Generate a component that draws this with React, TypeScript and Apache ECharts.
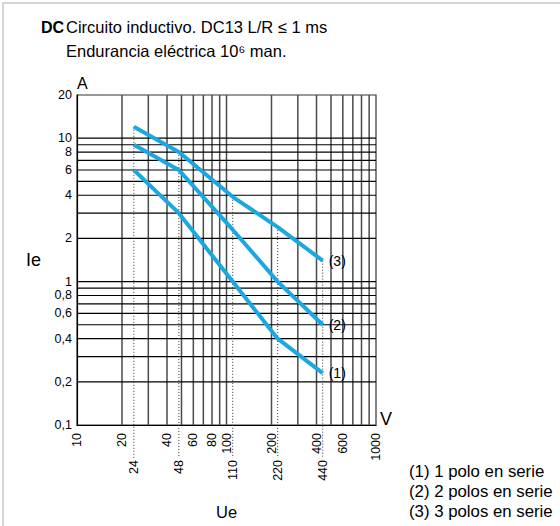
import React, { useEffect, useRef } from "react";
import * as echarts from "echarts";

// vertical grid lines (V) and horizontal grid lines (A)
const xGridValues = [20, 30, 40, 50, 60, 70, 80, 90, 100, 200, 300, 400, 500, 600, 700, 800, 900];
const yGridValues = [0.2, 0.3, 0.4, 0.5, 0.6, 0.7, 0.8, 0.9, 1, 2, 3, 4, 5, 6, 7, 8, 9, 10];
// tick labels
const xTickLabels = [10, 20, 40, 60, 80, 100, 200, 400, 600, 1000];
const ratedVoltages = [24, 48, 110, 220, 440];
const yTickLabels = [0.1, 0.2, 0.4, 0.6, 0.8, 1, 2, 4, 6, 8, 10, 20];
// curves: Ue (V) -> Ie (A)
const curve1 = [[24, 6], [48, 3], [110, 1], [220, 0.4], [440, 0.23]];
const curve2 = [[24, 9], [48, 6], [110, 2.3], [220, 1], [440, 0.5]];
const curve3 = [[24, 12], [48, 8], [110, 3.9], [220, 2.4], [440, 1.4]];
const curveNames = ["(1)", "(2)", "(3)"];
const legendLines = ["(1) 1 polo en serie", "(2) 2 polos en serie", "(3) 3 polos en serie"];

const FONT = "Liberation Sans";
const BLUE = "#1ba7e0";

const txt = (x: number, y: number, text: string, size: number, weight: string = "normal") => ({
  type: "text",
  x,
  y,
  style: { text, fontSize: size, fontWeight: weight, fontFamily: FONT, fill: "#000", verticalAlign: "middle", align: "left" },
});

export default function App() {
  const ref = useRef<HTMLDivElement>(null);
  useEffect(() => {
    if (!ref.current) return;
    const chart = echarts.init(ref.current, null, { renderer: "svg" });

    const gridRender = (params: any, api: any) => {
      const children: any[] = [];
      const [x0, yBottom] = api.coord([10, 0.1]);
      const [x1, yTop] = api.coord([1000, 20]);
      xGridValues.forEach((v) => {
        const [x] = api.coord([v, 1]);
        children.push({
          type: "line",
          shape: { x1: x, y1: yTop, x2: x, y2: yBottom },
          style: { stroke: "#4a4a4a", lineWidth: 1.5 },
        });
      });
      yGridValues.forEach((v) => {
        const [, y] = api.coord([10, v]);
        children.push({
          type: "line",
          shape: { x1: x0, y1: y, x2: x1, y2: y },
          style: { stroke: "#000", lineWidth: 1.2 },
        });
      });
      ratedVoltages.forEach((v) => {
        const top = curve3.find((p) => p[0] === v);
        const [x, yt] = api.coord([v, top ? top[1] : 20]);
        children.push({
          type: "line",
          shape: { x1: x, y1: yt, x2: x, y2: yBottom + 33 },
          style: { stroke: "#333", lineWidth: 1, lineDash: [1, 2] },
        });
        children.push({
          type: "text",
          x: x,
          y: yBottom + 35,
          rotation: Math.PI / 2,
          style: { text: String(v), fontSize: 12.5, fontFamily: FONT, fill: "#000", align: "right", verticalAlign: "middle" },
        });
      });
      xTickLabels.forEach((v) => {
        const [x] = api.coord([v, 1]);
        children.push({
          type: "text",
          x: x,
          y: yBottom + 8,
          rotation: Math.PI / 2,
          style: { text: String(v), fontSize: 12.5, fontFamily: FONT, fill: "#000", align: "right", verticalAlign: "middle" },
        });
      });
      yTickLabels.forEach((v) => {
        const [, y] = api.coord([10, v]);
        children.push({
          type: "text",
          x: x0 - 5,
          y: y,
          style: { text: String(v).replace(".", ","), fontSize: 12.5, fontFamily: FONT, fill: "#000", align: "right", verticalAlign: "middle" },
        });
      });
      return { type: "group", children };
    };

    const curves = [curve1, curve2, curve3];
    const option: any = {
      animation: false,
      backgroundColor: "#fff",
      grid: { left: 77, top: 95, right: 184, bottom: 101, show: true, borderColor: "#333", borderWidth: 1.2 },
      xAxis: {
        type: "log",
        logBase: 10,
        min: 10,
        max: 1000,
        axisLine: { show: true, lineStyle: { color: "#000", width: 1.2 } },
        axisTick: { show: false },
        axisLabel: { show: false },
        splitLine: { show: false },
        minorSplitLine: { show: false },
      },
      yAxis: {
        type: "log",
        logBase: 10,
        min: 0.1,
        max: 20,
        axisLine: { show: true, lineStyle: { color: "#000", width: 1.2 } },
        axisTick: { show: false },
        axisLabel: { show: false },
        splitLine: { show: false },
        minorSplitLine: { show: false },
      },
      series: [
        {
          type: "custom",
          coordinateSystem: "cartesian2d",
          renderItem: gridRender,
          data: [[100, 1]],
          silent: true,
          z: 1,
        },
        ...curves.map((c, i) => ({
          type: "line",
          data: c,
          symbol: "none",
          z: 5,
          lineStyle: { color: BLUE, width: 4 },
          endLabel: {
            show: true,
            formatter: curveNames[i],
            color: "#000",
            fontSize: 14,
            fontFamily: FONT,
            distance: 6,
          },
        })),
      ],
      graphic: [
        { type: "rect", shape: { x: 3, y: 3, width: 600, height: 600 }, style: { fill: "none", stroke: "#c8c8c8", lineWidth: 1.5 }, z: -1 },
        txt(41, 27, "DC", 16, "bold"),
        txt(66, 27, "Circuito inductivo. DC13 L/R ≤ 1 ms", 16.5),
        txt(66, 51, "Endurancia eléctrica 10⁶ man.", 16.5),
        txt(77, 83, "A", 16),
        txt(380, 419, "V", 18),
        txt(26, 260, "Ie", 18),
        txt(216, 512, "Ue", 16.5),
        ...legendLines.map((t, i) => txt(409, 471 + i * 20, t, 16.8)),
      ],
    };
    chart.setOption(option);
    return () => chart.dispose();
  }, []);
  return <div ref={ref} style={{ position: "absolute", left: 0, top: 0, width: 560, height: 526 }} />;
}
